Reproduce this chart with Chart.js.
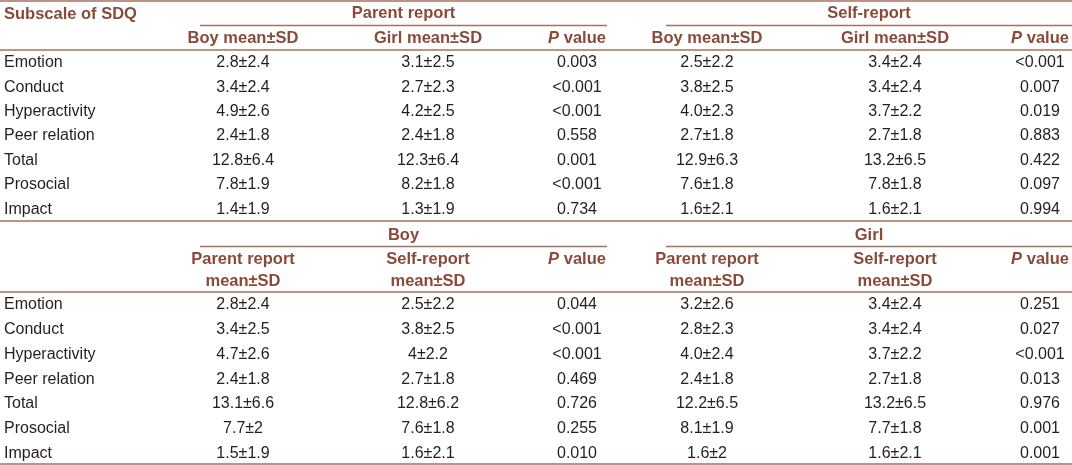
<!DOCTYPE html>
<html>
<head>
<meta charset="utf-8">
<script src="https://cdn.jsdelivr.net/npm/chart.js@4.4.0/dist/chart.umd.min.js"></script>
<style>
  html, body { margin: 0; padding: 0; background: #fff; }
  #wrap { width: 1072px; height: 465px; }
</style>
</head>
<body>
<div id="wrap"><canvas id="sdq"></canvas></div>
<script>
// ---------- DATA ----------
const subscales = ['Emotion', 'Conduct', 'Hyperactivity', 'Peer relation', 'Total', 'Prosocial', 'Impact'];

// top half: parent report vs self-report, boy vs girl
const parentBoy  = ['2.8±2.4', '3.4±2.4', '4.9±2.6', '2.4±1.8', '12.8±6.4', '7.8±1.9', '1.4±1.9'];
const parentGirl = ['3.1±2.5', '2.7±2.3', '4.2±2.5', '2.4±1.8', '12.3±6.4', '8.2±1.8', '1.3±1.9'];
const parentP    = ['0.003', '<0.001', '<0.001', '0.558', '0.001', '<0.001', '0.734'];
const selfBoy    = ['2.5±2.2', '3.8±2.5', '4.0±2.3', '2.7±1.8', '12.9±6.3', '7.6±1.8', '1.6±2.1'];
const selfGirl   = ['3.4±2.4', '3.4±2.4', '3.7±2.2', '2.7±1.8', '13.2±6.5', '7.8±1.8', '1.6±2.1'];
const selfP      = ['<0.001', '0.007', '0.019', '0.883', '0.422', '0.097', '0.994'];

// bottom half: boy and girl, parent vs self
const boyParent  = ['2.8±2.4', '3.4±2.5', '4.7±2.6', '2.4±1.8', '13.1±6.6', '7.7±2', '1.5±1.9'];
const boySelf    = ['2.5±2.2', '3.8±2.5', '4±2.2', '2.7±1.8', '12.8±6.2', '7.6±1.8', '1.6±2.1'];
const boyP       = ['0.044', '<0.001', '<0.001', '0.469', '0.726', '0.255', '0.010'];
const girlParent = ['3.2±2.6', '2.8±2.3', '4.0±2.4', '2.4±1.8', '12.2±6.5', '8.1±1.9', '1.6±2'];
const girlSelf   = ['3.4±2.4', '3.4±2.4', '3.7±2.2', '2.7±1.8', '13.2±6.5', '7.7±1.8', '1.6±2.1'];
const girlP      = ['0.251', '0.027', '<0.001', '0.013', '0.976', '0.001', '0.001'];

// ---------- LAYOUT ----------
const colX  = [4, 243, 428, 577, 707, 895, 1040];
const spanA = [200, 607];
const spanB = [666, 1072];
const rows1 = subscales.map((s, i) => 63 + i * 24.35);
const rows2 = subscales.map((s, i) => 305 + i * 24.7);

const HEAD = '#8a4a3a';
const RULE = '#a27262';
const INK  = '#231f20';
const BODY_FONT = '16px "Liberation Sans", Arial, sans-serif';
const HEAD_FONT = 'bold 16.5px "Liberation Sans", Arial, sans-serif';

function cells(texts, x, ys, opts) {
  return {
    data: texts.map((t, i) => ({ x: x, y: ys[i], text: t })),
    pointRadius: 0, pointHoverRadius: 0, showLine: false, clip: false,
    cell: Object.assign({ align: 'center', font: BODY_FONT, color: INK }, opts || {})
  };
}
function head(text, x, y, align) {
  return cells([text], x, [y], { font: HEAD_FONT, color: HEAD, align: align || 'center' });
}
function rule(x0, x1, y) {
  return {
    data: [{ x: x0, y: y }, { x: x1, y: y }],
    showLine: true, borderColor: RULE, borderWidth: 1.5,
    pointRadius: 0, pointHoverRadius: 0, clip: false
  };
}

const datasets = [
  // rules
  rule(0, 1072, 1), rule(spanA[0], spanA[1], 25.5), rule(spanB[0], spanB[1], 25.5),
  rule(0, 1072, 50), rule(0, 1072, 221),
  rule(spanA[0], spanA[1], 246.5), rule(spanB[0], spanB[1], 246.5),
  rule(0, 1072, 292), rule(0, 1072, 464),

  // top header
  head('Subscale of SDQ', colX[0], 14, 'left'),
  head('Parent report', (spanA[0] + spanA[1]) / 2, 13),
  head('Self-report', (spanB[0] + spanB[1]) / 2, 13),
  head('Boy mean±SD', colX[1], 38), head('Girl mean±SD', colX[2], 38), head('P value', colX[3], 38),
  head('Boy mean±SD', colX[4], 38), head('Girl mean±SD', colX[5], 38), head('P value', colX[6], 38),

  // top body
  cells(subscales, colX[0], rows1, { align: 'left' }),
  cells(parentBoy, colX[1], rows1), cells(parentGirl, colX[2], rows1), cells(parentP, colX[3], rows1),
  cells(selfBoy, colX[4], rows1), cells(selfGirl, colX[5], rows1), cells(selfP, colX[6], rows1),

  // bottom header
  head('Boy', (spanA[0] + spanA[1]) / 2, 235),
  head('Girl', (spanB[0] + spanB[1]) / 2, 235),
  head('Parent report', colX[1], 259), head('mean±SD', colX[1], 281),
  head('Self-report', colX[2], 259), head('mean±SD', colX[2], 281),
  head('P value', colX[3], 259),
  head('Parent report', colX[4], 259), head('mean±SD', colX[4], 281),
  head('Self-report', colX[5], 259), head('mean±SD', colX[5], 281),
  head('P value', colX[6], 259),

  // bottom body
  cells(subscales, colX[0], rows2, { align: 'left' }),
  cells(boyParent, colX[1], rows2), cells(boySelf, colX[2], rows2), cells(boyP, colX[3], rows2),
  cells(girlParent, colX[4], rows2), cells(girlSelf, colX[5], rows2), cells(girlP, colX[6], rows2)
];

// draws the cell text at each point the scales placed
const cellText = {
  id: 'cellText',
  afterDatasetsDraw(chart) {
    const ctx = chart.ctx;
    ctx.save();
    ctx.textBaseline = 'middle';
    chart.data.datasets.forEach((ds, di) => {
      if (!ds.cell) return;
      const meta = chart.getDatasetMeta(di);
      meta.data.forEach((pt, i) => {
        const t = ds.data[i].text;
        ctx.fillStyle = ds.cell.color;
        if (t === 'P value') {
          // italic P, then the rest
          ctx.font = 'italic ' + ds.cell.font;
          const wP = ctx.measureText('P').width;
          ctx.font = ds.cell.font;
          const wRest = ctx.measureText(' value').width;
          let x0 = pt.x - (wP + wRest) / 2;
          ctx.textAlign = 'left';
          ctx.font = 'italic ' + ds.cell.font;
          ctx.fillText('P', x0, pt.y);
          ctx.font = ds.cell.font;
          ctx.fillText(' value', x0 + wP, pt.y);
          return;
        }
        ctx.font = ds.cell.font;
        ctx.textAlign = ds.cell.align;
        ctx.fillText(t, pt.x, pt.y);
      });
    });
    ctx.restore();
  }
};

new Chart(document.getElementById('sdq'), {
  type: 'scatter',
  data: { datasets: datasets },
  options: {
    responsive: true,
    maintainAspectRatio: false,
    animation: false,
    events: [],
    layout: { padding: 0 },
    plugins: { legend: { display: false }, tooltip: { enabled: false } },
    scales: {
      x: { type: 'linear', min: 0, max: 1072, display: false },
      y: { type: 'linear', min: 0, max: 465, reverse: true, display: false }
    }
  },
  plugins: [cellText]
});
</script>
</body>
</html>
